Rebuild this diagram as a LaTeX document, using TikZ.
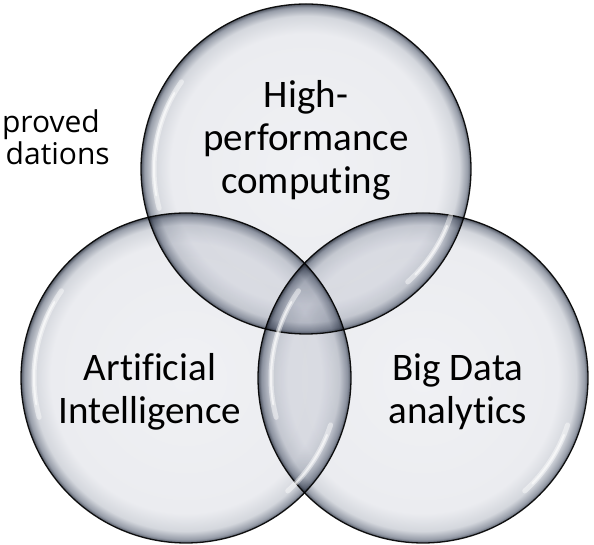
\documentclass[tikz,border=0pt]{standalone}
\usepackage{fontspec}
\setmainfont{Carlito}[Ligatures=CommonOff]
\newfontfamily\sidefont{Open Sans}
\definecolor{bubC}{RGB}{240,241,244}
\definecolor{bubB}{RGB}{235,236,240}
\definecolor{bubM}{RGB}{212,215,221}
\definecolor{bubN}{RGB}{150,156,168}
\definecolor{bubD}{RGB}{80,86,98}
\pgfdeclareradialshading{bubble}{\pgfpoint{0bp}{0bp}}{color(0bp)=(bubC); color(20.5bp)=(bubB); color(23.2bp)=(bubM); color(24.5bp)=(bubN); color(25bp)=(bubD); color(50bp)=(bubD)}
\tikzset{
  bubblecircle/.style={circle, minimum size=330pt, inner sep=0pt, shade, shading=bubble, draw=black!90, line width=1.3pt},
  hl/.style={draw=white, line width=5pt, line cap=round, opacity=0.45},
  hlc/.style={draw=white, line width=2pt, line cap=round, opacity=0.6},
  maintext/.style={font=\fontsize{39}{43}\selectfont, align=center, inner sep=0pt, text=black},
  sidetext/.style={font=\sidefont\fontsize{30}{32}\selectfont, inner sep=0pt, anchor=base east, text=black}
}
\begin{document}
\begin{tikzpicture}[x=1pt,y=1pt]
\useasboundingbox[fill=white] (0,0) rectangle (594,545);
\begin{scope}[blend group=multiply]
  \node[bubblecircle] (ctop) at (306,376) {};
  \node[bubblecircle] (cleft) at (186,167) {};
  \node[bubblecircle] (cright) at (423,167) {};
\end{scope}
\foreach \c in {ctop,cleft,cright}{
  \draw[hl] (\c.center) ++(145:152pt) arc[start angle=145, end angle=195, radius=152pt];
  \draw[hlc] (\c.center) ++(150:152pt) arc[start angle=150, end angle=190, radius=152pt];
  \draw[hl] (\c.center) ++(-18:152pt) arc[start angle=-18, end angle=-48, radius=152pt];
  \draw[hlc] (\c.center) ++(-22:152pt) arc[start angle=-22, end angle=-44, radius=152pt];
}
\node[sidetext] (imp) at (100,412) {proved};
\node[sidetext] (rec) at (110,380) {dations};
\node[maintext] (hpc) at (306,405) {High-\\performance\\computing};
\node[maintext] (ai) at (150,153) {Artificial\\Intelligence};
\node[maintext] (bda) at (458,153) {Big Data\\analytics};
\end{tikzpicture}
\end{document}
